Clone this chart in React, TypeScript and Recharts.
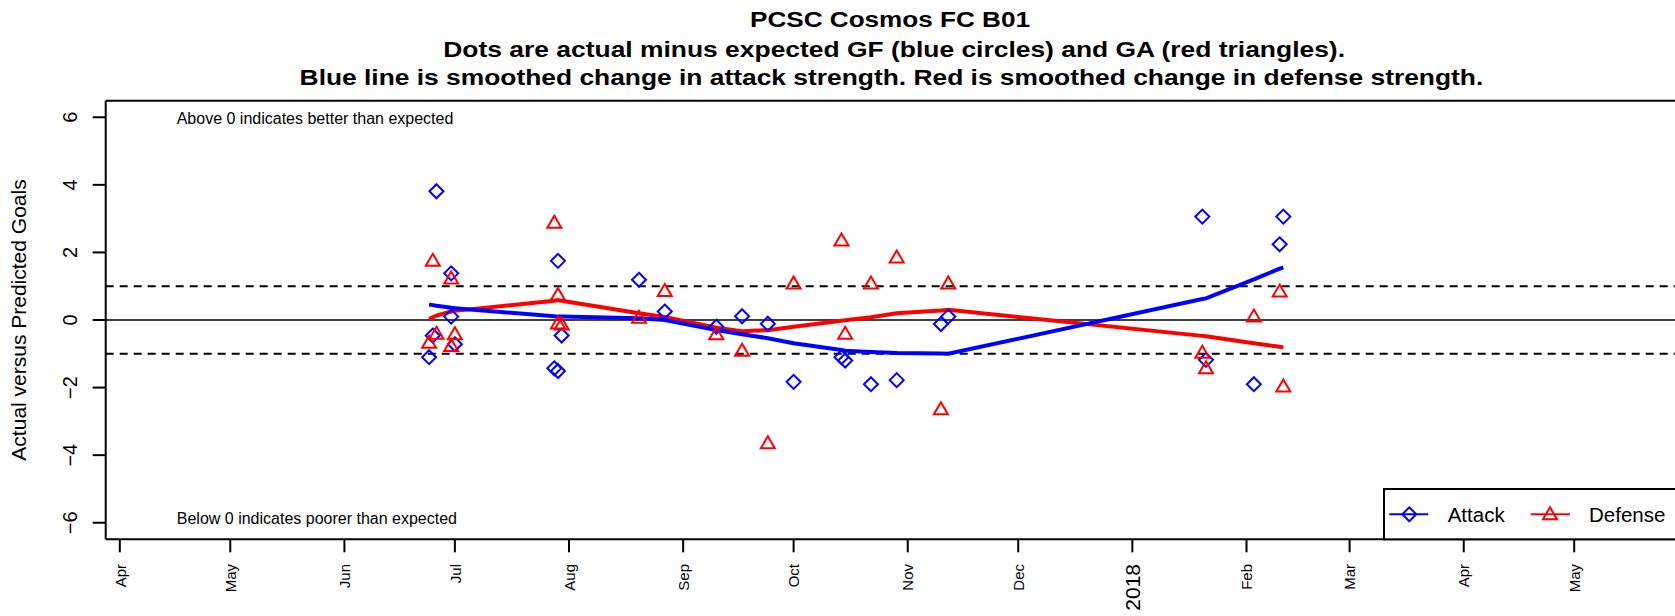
import React from "react";
import { ComposedChart, Scatter, Line, XAxis, YAxis, ReferenceLine } from "recharts";

// one entry per game: actual minus expected goals for / against
const gameDates = [
  "2017-06-24", "2017-06-25", "2017-06-26", "2017-06-30", "2017-06-30", "2017-07-01",
  "2017-07-28", "2017-07-29", "2017-07-29", "2017-07-30", "2017-08-20", "2017-08-27",
  "2017-09-10", "2017-09-17", "2017-09-24", "2017-10-01", "2017-10-14", "2017-10-15",
  "2017-10-22", "2017-10-29", "2017-11-10", "2017-11-12", "2018-01-20", "2018-01-21",
  "2018-02-03", "2018-02-10", "2018-02-11",
];
const attackDiff = [
  -1.1, -0.46, 3.81, 1.38, 0.1, -0.72, -1.43, 1.75, -1.51, -0.46, 1.19, 0.25, -0.2, 0.11,
  -0.11, -1.83, -1.1, -1.2, -1.9, -1.78, -0.12, 0.1, 3.06, -1.18, -1.9, 2.24, 3.06,
];
const defenseDiff = [
  -0.67, 1.75, -0.41, 1.23, -0.77, -0.42, 2.88, 0.74, -0.1, -0.13, 0.07, 0.86, -0.42, -0.91,
  -3.65, 1.08, 2.35, -0.41, 1.08, 1.85, -2.64, 1.08, -0.97, -1.43, 0.1, 0.84, -1.97,
];

// smoothed strength change, one value per match day
const trendDates = [
  "2017-06-24", "2017-06-25", "2017-06-26", "2017-06-30", "2017-07-01", "2017-07-28",
  "2017-07-29", "2017-07-30", "2017-08-20", "2017-08-27", "2017-09-10", "2017-09-17",
  "2017-09-24", "2017-10-01", "2017-10-14", "2017-10-15", "2017-10-22", "2017-10-29",
  "2017-11-10", "2017-11-12", "2018-01-20", "2018-01-21", "2018-02-03", "2018-02-10",
  "2018-02-11",
];
const attackTrend = [
  0.46, 0.44, 0.42, 0.36, 0.35, 0.11, 0.1, 0.1, 0.05, 0.0, -0.3, -0.42, -0.54, -0.69, -0.89,
  -0.91, -0.95, -0.98, -0.99, -1.0, 0.62, 0.64, 1.2, 1.52, 1.55,
];
const defenseTrend = [
  0.03, 0.08, 0.13, 0.25, 0.27, 0.57, 0.59, 0.57, 0.2, 0.09, -0.23, -0.33, -0.3, -0.2, -0.02,
  -0.01, 0.08, 0.2, 0.28, 0.3, -0.47, -0.48, -0.69, -0.79, -0.81,
];

const tickDates = [
  "2017-04-01", "2017-05-01", "2017-06-01", "2017-07-01", "2017-08-01", "2017-09-01",
  "2017-10-01", "2017-11-01", "2017-12-01", "2018-01-01", "2018-02-01", "2018-03-01",
  "2018-04-01", "2018-05-01",
];
const tickLabels = ["Apr", "May", "Jun", "Jul", "Aug", "Sep", "Oct", "Nov", "Dec", "2018", "Feb", "Mar", "Apr", "May"];
const yTicks = [-6, -4, -2, 0, 2, 4, 6];

const FONT = "'Liberation Sans', Arial, Helvetica, sans-serif";
const BLUE = "#0000FF";
const RED = "#FF0000";

const CHART_W = 1680;
const CHART_H = 616;
const PLOT_LEFT = 105.7;
const PLOT_TOP = 100.7;
const PLOT_BOTTOM = 539.3;
const PLOT_RIGHT = 1677.3;

// days since 2017-04-01
const toDay = (s: string) => {
  const [y, m, d] = s.split("-").map(Number);
  return (Date.UTC(y, m - 1, d) - Date.UTC(2017, 3, 1)) / 86400000;
};

const attackPts = gameDates.map((d, i) => ({ day: toDay(d), v: attackDiff[i] }));
const defensePts = gameDates.map((d, i) => ({ day: toDay(d), v: defenseDiff[i] }));
const attackLine = trendDates.map((d, i) => ({ day: toDay(d), v: attackTrend[i] }));
const defenseLine = trendDates.map((d, i) => ({ day: toDay(d), v: defenseTrend[i] }));
const xTicks = tickDates.map(toDay);

const X_DOMAIN = [-3.83, 423.0];
const Y_DOMAIN = [-6.49, 6.49];

const Diamond = (props: any) => {
  const { cx, cy } = props;
  return (
    <polygon
      points={`${cx},${cy - 7} ${cx + 7},${cy} ${cx},${cy + 7} ${cx - 7},${cy}`}
      fill="none"
      stroke={BLUE}
      strokeWidth={2}
    />
  );
};

const Triangle = (props: any) => {
  const { cx, cy } = props;
  return (
    <polygon
      points={`${cx},${cy - 7} ${cx + 7},${cy + 5} ${cx - 7},${cy + 5}`}
      fill="none"
      stroke={RED}
      strokeWidth={2}
    />
  );
};

const YTick = (props: any) => {
  const { x, y, payload } = props;
  const v = payload.value;
  const label = v < 0 ? `\u2212${Math.abs(v)}` : `${v}`;
  return (
    <text
      transform={`translate(${x - 13.4}, ${y}) rotate(-90)`}
      textAnchor="middle"
      fontSize={20}
      fontFamily={FONT}
      fill="#000"
    >
      {label}
    </text>
  );
};

const XTick = (props: any) => {
  const { x, index } = props;
  const label = tickLabels[index];
  const fs = label === "2018" ? 21 : 15;
  return (
    <text
      transform={`translate(${x + fs * 0.38}, ${PLOT_BOTTOM + 24.7}) rotate(-90)`}
      textAnchor="end"
      fontSize={fs}
      fontFamily={FONT}
      fill="#000"
    >
      {label}
    </text>
  );
};

export default function App() {
  return (
    <div
      style={{
        position: "fixed",
        left: 0,
        top: 0,
        width: 1675,
        height: 616,
        overflow: "hidden",
        background: "#fff",
      }}
    >
      <ComposedChart
        width={CHART_W}
        height={CHART_H}
        margin={{ top: PLOT_TOP, right: CHART_W - PLOT_RIGHT, left: 0, bottom: 0 }}
      >
        <XAxis
          type="number"
          dataKey="day"
          domain={X_DOMAIN}
          allowDataOverflow
          ticks={xTicks}
          interval={0}
          height={CHART_H - PLOT_BOTTOM}
          tickSize={13}
          axisLine={{ stroke: "#000", strokeWidth: 2 }}
          tickLine={{ stroke: "#000", strokeWidth: 2 }}
          tick={<XTick />}
        />
        <YAxis
          type="number"
          dataKey="v"
          domain={Y_DOMAIN}
          allowDataOverflow
          ticks={yTicks}
          interval={0}
          width={PLOT_LEFT}
          tickSize={13}
          axisLine={{ stroke: "#000", strokeWidth: 2 }}
          tickLine={{ stroke: "#000", strokeWidth: 2 }}
          tick={<YTick />}
        />
        <ReferenceLine y={Y_DOMAIN[1]} stroke="#000" strokeWidth={2} ifOverflow="visible" />
        <ReferenceLine y={0} stroke="#000" strokeWidth={1.5} />
        <ReferenceLine y={1} stroke="#000" strokeWidth={2} strokeDasharray="8 6" />
        <ReferenceLine y={-1} stroke="#000" strokeWidth={2} strokeDasharray="8 6" />
        <Scatter data={attackPts} shape={<Diamond />} isAnimationActive={false} />
        <Scatter data={defensePts} shape={<Triangle />} isAnimationActive={false} />
        <Line
          data={defenseLine}
          dataKey="v"
          type="linear"
          stroke={RED}
          strokeWidth={4}
          dot={false}
          activeDot={false}
          isAnimationActive={false}
        />
        <Line
          data={attackLine}
          dataKey="v"
          type="linear"
          stroke={BLUE}
          strokeWidth={4}
          dot={false}
          activeDot={false}
          isAnimationActive={false}
        />
      </ComposedChart>

      <svg
        width={CHART_W}
        height={CHART_H}
        style={{ position: "absolute", left: 0, top: 0, pointerEvents: "none" }}
        fontFamily={FONT}
      >
        <g fontWeight="bold" fontSize={22} fill="#000">
          <text x={750} y={27.3} textLength={280} lengthAdjust="spacingAndGlyphs">
            PCSC Cosmos FC B01
          </text>
          <text x={443.3} y={56.5} textLength={901.7} lengthAdjust="spacingAndGlyphs">
            Dots are actual minus expected GF (blue circles) and GA (red triangles).
          </text>
          <text x={299.6} y={84.5} textLength={1183.7} lengthAdjust="spacingAndGlyphs">
            Blue line is smoothed change in attack strength. Red is smoothed change in defense strength.
          </text>
        </g>
        <text
          transform={`translate(26, ${(PLOT_TOP + PLOT_BOTTOM) / 2}) rotate(-90)`}
          textAnchor="middle"
          fontSize={21}
          fill="#000"
        >
          Actual versus Predicted Goals
        </text>
        <text x={176.7} y={124.3} fontSize={16} fill="#000">
          Above 0 indicates better than expected
        </text>
        <text x={176.8} y={524.3} fontSize={16} fill="#000">
          Below 0 indicates poorer than expected
        </text>
        <g>
          <rect
            x={1384}
            y={489}
            width={PLOT_RIGHT - 1384}
            height={PLOT_BOTTOM - 489}
            fill="#fff"
            stroke="#000"
            strokeWidth={2}
          />
          <line x1={1389.3} y1={514.3} x2={1428.3} y2={514.3} stroke={BLUE} strokeWidth={2} />
          <Diamond cx={1409.3} cy={514.3} />
          <text x={1447.7} y={521.7} fontSize={20.5} fill="#000">
            Attack
          </text>
          <line x1={1530.7} y1={514.3} x2={1570} y2={514.3} stroke={RED} strokeWidth={2} />
          <Triangle cx={1550} cy={514.3} />
          <text x={1589} y={521.7} fontSize={20.5} fill="#000">
            Defense
          </text>
        </g>
      </svg>
    </div>
  );
}
